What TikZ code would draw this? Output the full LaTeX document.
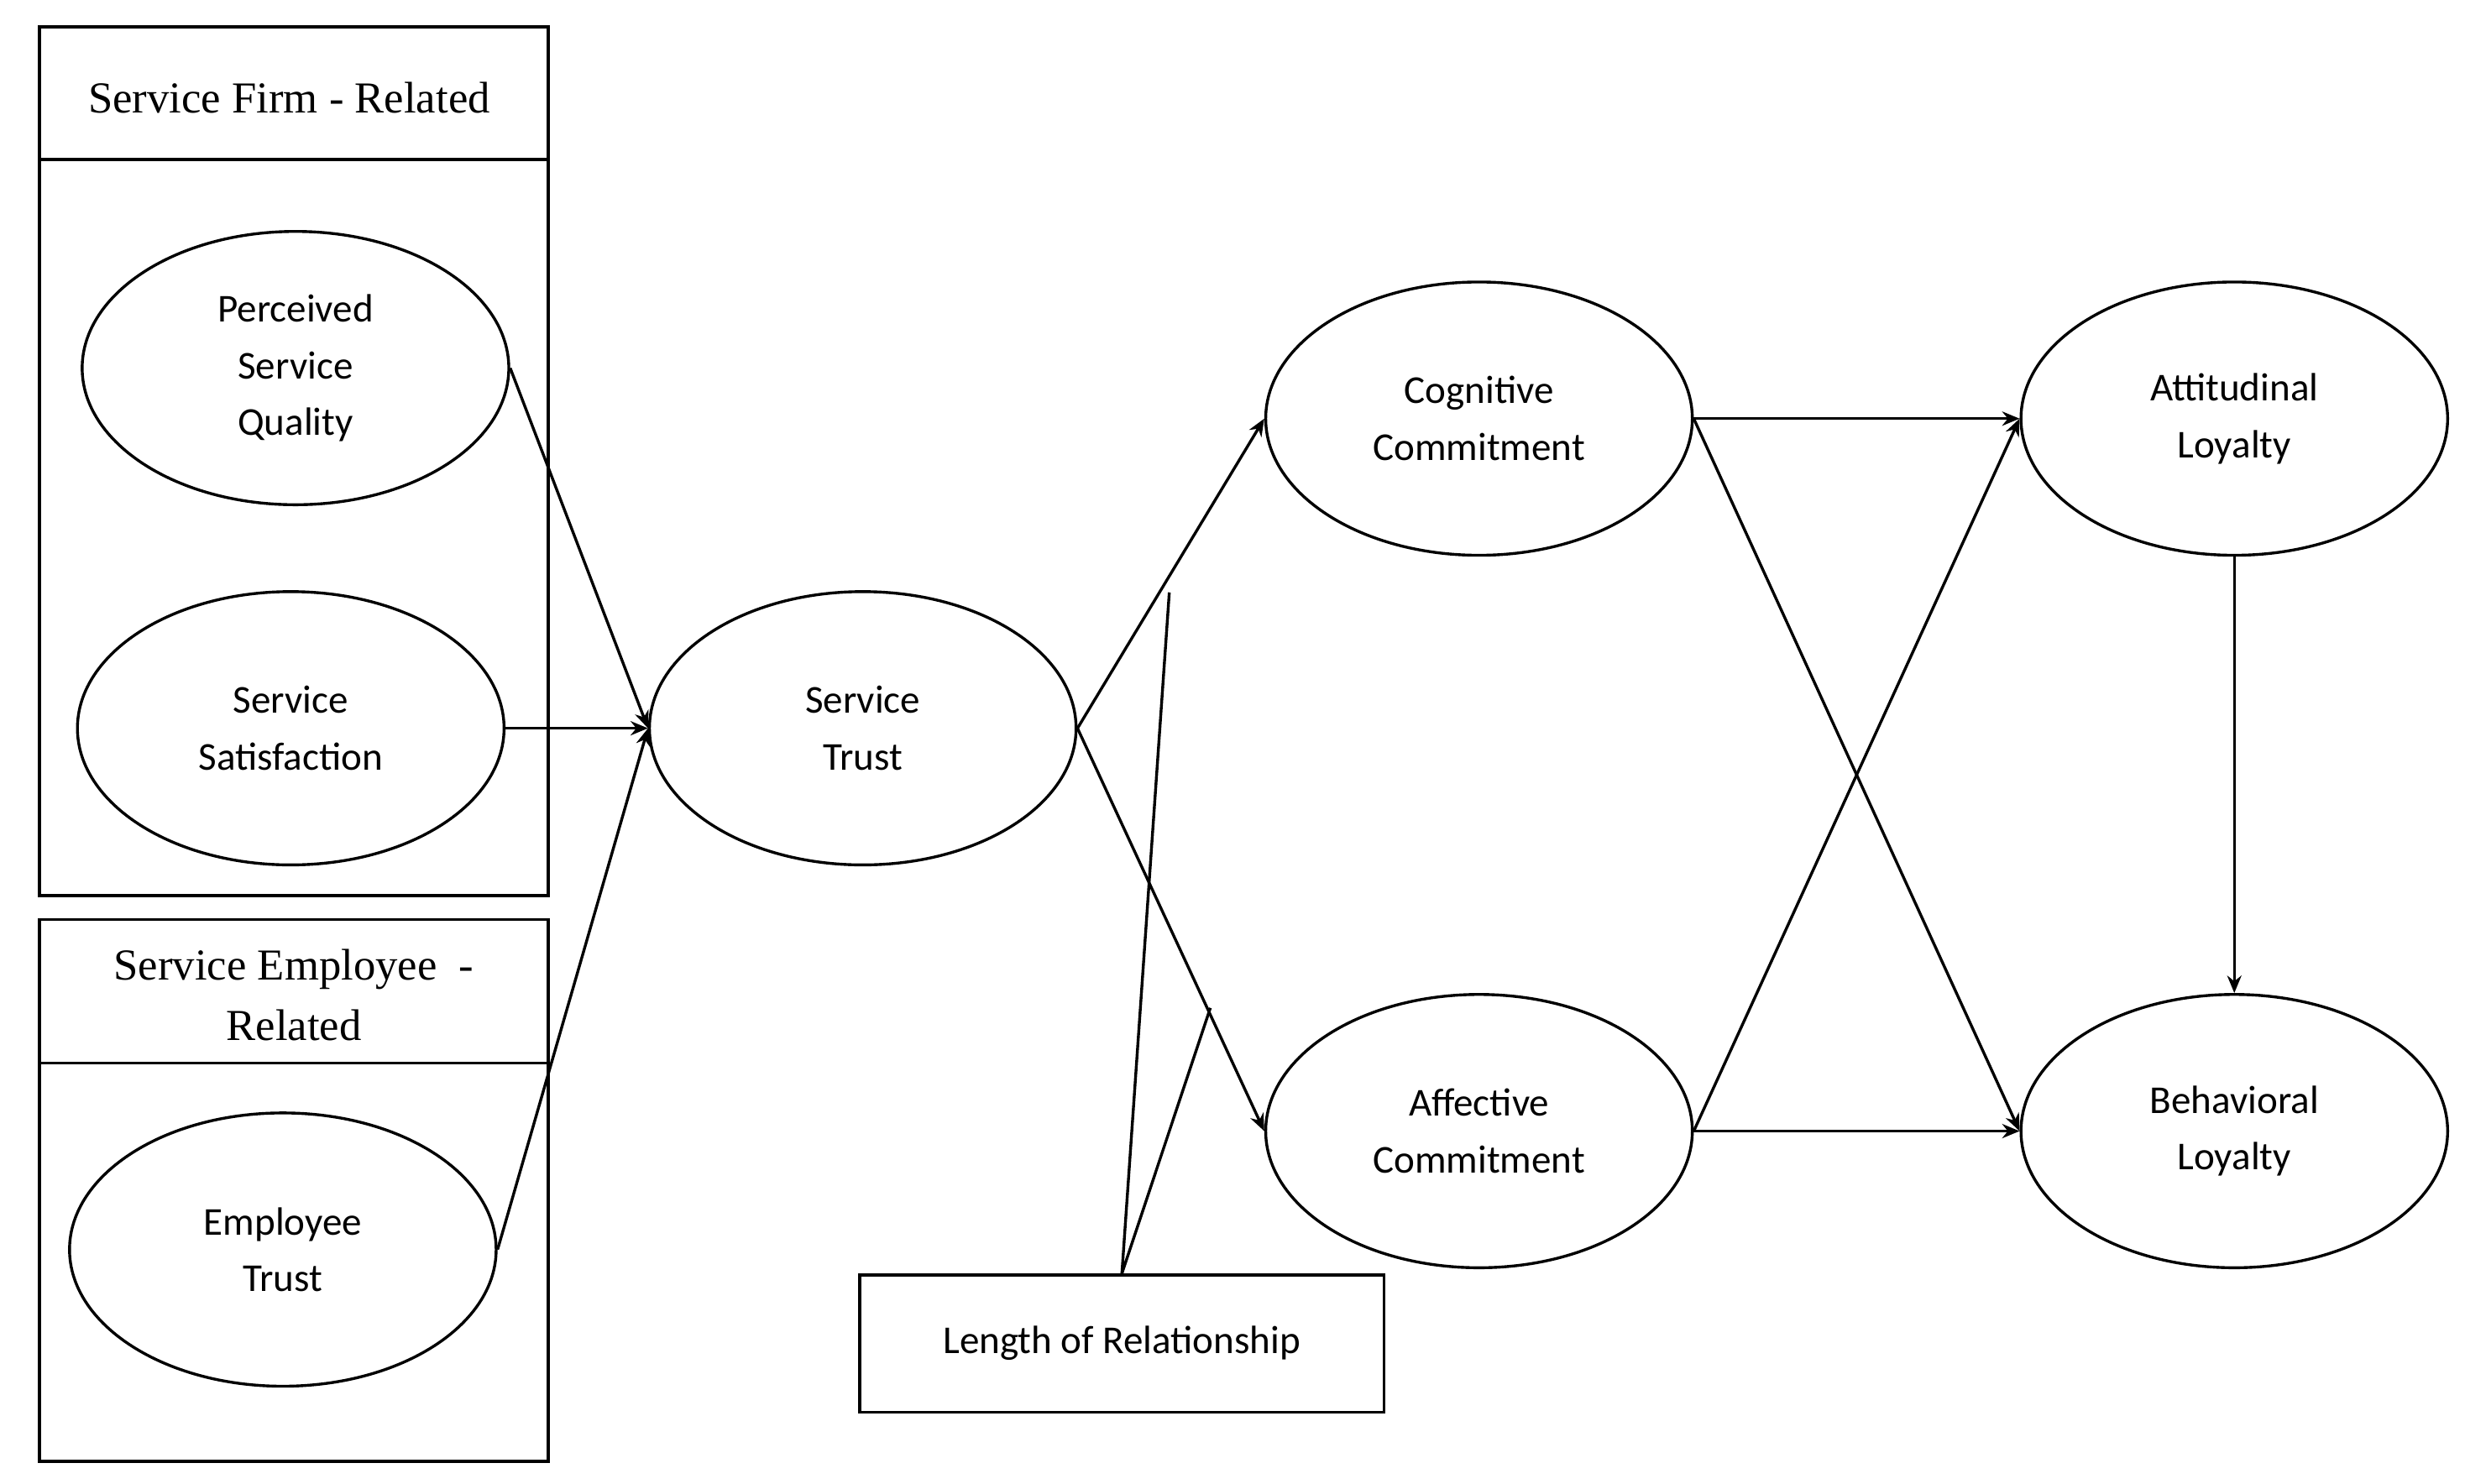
\documentclass[tikz,border=0pt]{standalone}
\usepackage{fontspec}
\setmainfont{Liberation Serif}
\newfontfamily\carlitofont{Carlito}
\usetikzlibrary{shapes.geometric,arrows.meta}
\begin{document}
\begin{tikzpicture}[x=1pt,y=-1pt,line width=1.8pt,
  el/.style={draw,ellipse,minimum width=270pt,minimum height=173pt,inner sep=0pt,align=center,font=\carlitofont\fontsize{25}{36}\selectfont},
  hd/.style={align=center,font=\fontsize{28}{38}\selectfont},
  arr/.style={-{Stealth[length=11pt,width=9pt]}}]
\useasboundingbox (0,0) rectangle (1560,939);
\draw (25,17) rectangle (347,567);
\draw (25,101) -- (347,101);
\node[hd] (t1) at (183,62) {Service Firm - Related};
\draw (25,582) rectangle (347,925);
\draw (25,673) -- (347,673);
\node[hd] (t2) at (186,630) {Service Employee\ \ -\\Related};
\node[el] (psq) at (187,233) {Perceived\\Service\\Quality};
\node[el] (ss) at (184,461) {Service\\Satisfaction};
\node[el] (et) at (179,791) {Employee\\Trust};
\node[el] (st) at (546,461) {Service\\Trust};
\node[el] (cc) at (936,265) {Cognitive\\Commitment};
\node[el] (ac) at (936,716) {Affective\\Commitment};
\node[el] (al) at (1414,265) {Attitudinal\\Loyalty};
\node[el] (bl) at (1414,716) {Behavioral\\Loyalty};
\node[draw,minimum width=332pt,minimum height=87pt,font=\carlitofont\fontsize{25}{30}\selectfont] (lor) at (710,850.5) {Length of Relationship};
\coordinate (m1) at (740,375);
\coordinate (m2) at (766,638);
\draw[arr] (psq.east) -- (st.west);
\draw[arr] (ss.east) -- (st.west);
\draw[arr] (et.east) -- (st.west);
\draw[arr] (st.east) -- (cc.west);
\draw[arr] (st.east) -- (ac.west);
\draw[arr] (cc.east) -- (al.west);
\draw[arr] (cc.east) -- (bl.west);
\draw[arr] (ac.east) -- (al.west);
\draw[arr] (ac.east) -- (bl.west);
\draw[arr] (al.south) -- (bl.north);
\draw (lor.north) -- (m1);
\draw (lor.north) -- (m2);
\end{tikzpicture}
\end{document}
